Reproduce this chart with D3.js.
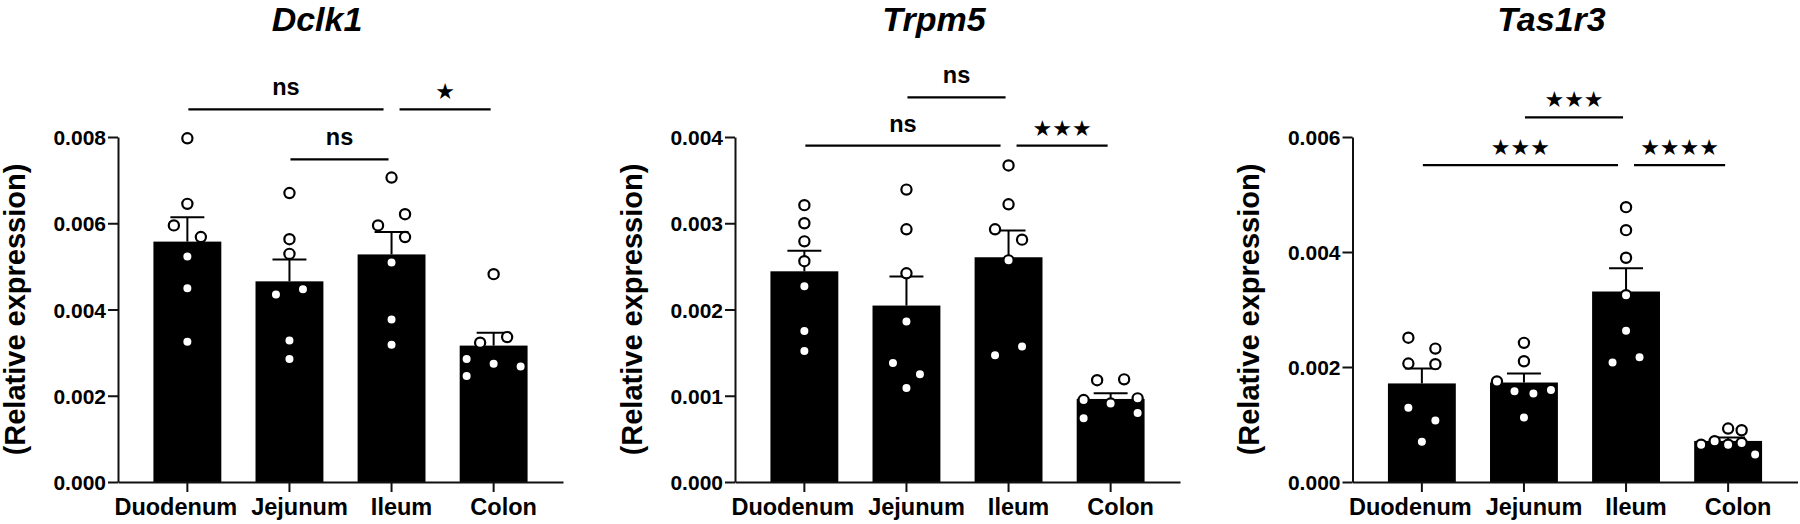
<!DOCTYPE html>
<html>
<head>
<meta charset="utf-8">
<script src="https://cdn.jsdelivr.net/npm/d3@7"></script>
<style>
  body { margin: 0; background: #fff; }
  text { font-family: "Liberation Sans", Arial, sans-serif; font-weight: bold; fill: #000; }
</style>
</head>
<body>
<div id="vis"></div>
<script>
// categories shared by all three genes
var categories = ["Duodenum", "Jejunum", "Ileum", "Colon"];

// Dclk1 - individual mice per segment
var dclk1Values = [
    [0.00797, 0.00645, 0.00595, 0.00568, 0.00523, 0.00449, 0.00325],
    [0.00670, 0.00563, 0.00529, 0.00435, 0.00447, 0.00328, 0.00285],
    [0.00706, 0.00621, 0.00595, 0.00568, 0.00509, 0.00377, 0.00318],
    [0.00482, 0.00336, 0.00323, 0.00285, 0.00274, 0.00268, 0.00246]
];
// column of each dot inside its group (0 = centre)
var dclk1Lanes = [
    [0, 0, -1, 1, 0, 0, 0],
    [0, 0, 0, -1, 1, 0, 0],
    [0, 1, -1, 1, 0, 0, 0],
    [0, 1, -1, -2, 0, 2, -2]
];
var dclk1Ticks = [0, 0.002, 0.004, 0.006, 0.008];
var dclk1Sig = [
    { from: "Duodenum", to: "Ileum", level: 0.00864, label: "ns" },
    { from: "Ileum", to: "Colon", level: 0.00864, label: "\u2605" },
    { from: "Jejunum", to: "Ileum", level: 0.00748, label: "ns" }
];

// Trpm5
var trpm5Values = [
    [0.00321, 0.00300, 0.00279, 0.00256, 0.00227, 0.00175, 0.00152],
    [0.00339, 0.00293, 0.00242, 0.00186, 0.00138, 0.00125, 0.00109],
    [0.00367, 0.00322, 0.00293, 0.00281, 0.00257, 0.00147, 0.00157],
    [0.00118, 0.00119, 0.00095, 0.00091, 0.00097, 0.00074, 0.00080]
];
var trpm5Lanes = [
    [0, 0, 0, 0, 0, 0, 0],
    [0, 0, 0, 0, -1, 1, 0],
    [0, 0, -1, 1, 0, -1, 1],
    [-1, 1, -2, 0, 2, -2, 2]
];
var trpm5Ticks = [0, 0.001, 0.002, 0.003, 0.004];
var trpm5Sig = [
    { from: "Jejunum", to: "Ileum", level: 0.00446, label: "ns" },
    { from: "Duodenum", to: "Ileum", level: 0.00390, label: "ns" },
    { from: "Ileum", to: "Colon", level: 0.00390, label: "\u2605\u2605\u2605" }
];

// Tas1r3
var tas1r3Values = [
    [0.00251, 0.00232, 0.00206, 0.00205, 0.00129, 0.00107, 0.00070],
    [0.00242, 0.00210, 0.00175, 0.00158, 0.00154, 0.00160, 0.00112],
    [0.00478, 0.00438, 0.00390, 0.00325, 0.00263, 0.00208, 0.00217],
    [0.00093, 0.00090, 0.00065, 0.00071, 0.00065, 0.00068, 0.00048]
];
var tas1r3Lanes = [
    [-1, 1, -1, 1, -1, 1, 0],
    [0, 0, -2, -0.7, 0.7, 2, 0],
    [0, 0, 0, 0, 0, -1, 1],
    [0, 1, -2, -1, 0, 1, 2]
];
var tas1r3Ticks = [0, 0.002, 0.004, 0.006];
var tas1r3Sig = [
    { from: "Jejunum", to: "Ileum", level: 0.00634, label: "\u2605\u2605\u2605" },
    { from: "Duodenum", to: "Ileum", level: 0.00551, label: "\u2605\u2605\u2605" },
    { from: "Ileum", to: "Colon", level: 0.00551, label: "\u2605\u2605\u2605\u2605" }
];

var width = 1800, height = 524;
var plotTop = 137, plotBottom = 482, plotWidth = 445;
var laneStep = 13.5;

var svg = d3.select("#vis").append("svg")
    .attr("width", width)
    .attr("height", height);

function drawPanel(left, title, values, lanes, ticks, sig) {
    var g = svg.append("g").attr("transform", "translate(" + left + ",0)");

    var x = d3.scaleBand().domain(categories).range([0, plotWidth])
        .paddingInner(0.335).paddingOuter(0.347);
    var y = d3.scaleLinear().domain([0, ticks[ticks.length - 1]]).range([plotBottom, plotTop]);
    var xc = function (c) { return x(c) + x.bandwidth() / 2; };

    // mean +/- SEM for each group
    var stats = values.map(function (v, i) {
        return { cat: categories[i], mean: d3.mean(v), sem: d3.deviation(v) / Math.sqrt(v.length) };
    });

    // bars
    g.selectAll(".bar").data(stats).enter().append("rect")
        .attr("x", function (d) { return x(d.cat); })
        .attr("width", x.bandwidth())
        .attr("y", function (d) { return y(d.mean); })
        .attr("height", function (d) { return plotBottom - y(d.mean); })
        .attr("fill", "#000");

    // error bars (upper half only)
    g.selectAll(".err").data(stats).enter().append("line")
        .attr("x1", function (d) { return xc(d.cat); })
        .attr("x2", function (d) { return xc(d.cat); })
        .attr("y1", function (d) { return y(d.mean); })
        .attr("y2", function (d) { return y(d.mean + d.sem); })
        .attr("stroke", "#000").attr("stroke-width", 2);
    g.selectAll(".cap").data(stats).enter().append("line")
        .attr("x1", function (d) { return xc(d.cat) - x.bandwidth() / 4; })
        .attr("x2", function (d) { return xc(d.cat) + x.bandwidth() / 4; })
        .attr("y1", function (d) { return y(d.mean + d.sem); })
        .attr("y2", function (d) { return y(d.mean + d.sem); })
        .attr("stroke", "#000").attr("stroke-width", 2);

    // x axis
    var xAxis = g.append("g")
        .attr("transform", "translate(0," + plotBottom + ")")
        .call(d3.axisBottom(x).tickSize(10).tickSizeOuter(0).tickPadding(6));
    xAxis.selectAll("text").style("font-size", "23.5px");

    // y axis
    var yAxis = g.append("g")
        .call(d3.axisLeft(y).tickValues(ticks).tickFormat(d3.format(".3f"))
            .tickSize(10).tickSizeOuter(0).tickPadding(2));
    yAxis.selectAll("text").style("font-size", "21px").attr("dy", "0.36em");

    [xAxis, yAxis].forEach(function (a) {
        a.attr("font-family", null).attr("font-size", null);
        a.select(".domain").attr("stroke", "#111").attr("stroke-width", 2);
        a.selectAll(".tick line").attr("stroke", "#111").attr("stroke-width", 2);
    });

    // category labels sit a little right of the ticks; push the first one
    // left when it would run into its neighbour
    var labelNodes = xAxis.selectAll(".tick text").nodes();
    var labelW = labelNodes.map(function (n) { return n.getComputedTextLength(); });
    var labelX = categories.map(function (c) { return xc(c) + 10; });
    for (var i = categories.length - 2; i >= 0; i--) {
        var maxX = labelX[i + 1] - labelW[i + 1] / 2 - 14 - labelW[i] / 2;
        if (labelX[i] > maxX) labelX[i] = maxX;
    }
    labelNodes.forEach(function (n, i) {
        d3.select(n).attr("x", labelX[i] - xc(categories[i]));
    });

    // individual points
    var points = [];
    values.forEach(function (v, i) {
        v.forEach(function (val, j) {
            points.push({ cat: categories[i], value: val, lane: lanes[i][j] });
        });
    });
    g.selectAll(".dot").data(points).enter().append("circle")
        .attr("class", "dot")
        .attr("r", 5.1)
        .attr("cx", function (d) { return xc(d.cat) + d.lane * laneStep; })
        .attr("cy", function (d) { return y(d.value); })
        .attr("fill", "#fff")
        .attr("stroke", "#000")
        .attr("stroke-width", 2.2);

    // significance lines
    sig.forEach(function (s) {
        var sharedLeft = sig.some(function (o) { return o !== s && o.level === s.level && o.to === s.from; });
        var sharedRight = sig.some(function (o) { return o !== s && o.level === s.level && o.from === s.to; });
        var x1 = xc(s.from) + (sharedLeft ? 8 : 1);
        var x2 = xc(s.to) + (sharedRight ? -8 : -3);
        var ly = y(s.level);
        g.append("line")
            .attr("x1", x1).attr("x2", x2).attr("y1", ly).attr("y2", ly)
            .attr("stroke", "#000").attr("stroke-width", 2.2);
        var isStar = s.label.charAt(0) === "\u2605";
        g.append("text")
            .attr("x", (x1 + x2) / 2)
            .attr("y", ly - (isStar ? 10 : 14))
            .attr("text-anchor", "middle")
            .style("font-size", isStar ? "22px" : "23.5px")
            .style("font-family", isStar ? "'DejaVu Sans', sans-serif" : null)
            .text(s.label);
    });

    // gene title
    g.append("text")
        .attr("x", 199)
        .attr("y", 31)
        .attr("text-anchor", "middle")
        .style("font-size", "34px")
        .style("font-style", "italic")
        .text(title);

    // y axis title
    g.append("text")
        .attr("transform", "translate(-101," + ((plotTop + plotBottom) / 2) + ") rotate(-90)")
        .attr("dy", "0.26em")
        .attr("text-anchor", "middle")
        .style("font-size", "29px")
        .text("(Relative expression)");
}

drawPanel(118, "Dclk1", dclk1Values, dclk1Lanes, dclk1Ticks, dclk1Sig);
drawPanel(735, "Trpm5", trpm5Values, trpm5Lanes, trpm5Ticks, trpm5Sig);
drawPanel(1352.5, "Tas1r3", tas1r3Values, tas1r3Lanes, tas1r3Ticks, tas1r3Sig);
</script>
</body>
</html>
